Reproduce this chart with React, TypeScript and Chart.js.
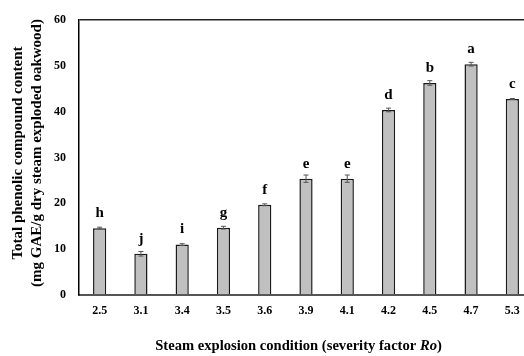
import React, { useEffect, useRef } from "react";
import { Chart, registerables } from "chart.js";

Chart.register(...registerables);

const categories = ["2.5", "3.1", "3.4", "3.5", "3.6", "3.9", "4.1", "4.2", "4.5", "4.7", "5.3"];
const values = [14.6, 9.0, 11.0, 14.7, 19.7, 25.4, 25.4, 40.4, 46.3, 50.4, 42.8];
const errors = [0.2, 0.5, 0.2, 0.3, 0.2, 0.8, 0.8, 0.4, 0.5, 0.4, 0.1];
const letters = ["h", "j", "i", "g", "f", "e", "e", "d", "b", "a", "c"];
const yMin = 0;
const yMax = 60;
const yStep = 10;

const yTitleLines = ["Total phenolic compound content", "(mg GAE/g dry steam exploded oakwood)"];
const xTitleMain = "Steam explosion condition (severity factor ";
const xTitleItalic = "Ro";
const xTitleEnd = ")";

const SERIF = "'Liberation Serif', 'Times New Roman', serif";

const annotPlugin = {
  id: "annot",
  afterDatasetsDraw(chart: any) {
    const ctx = chart.ctx;
    const xs = chart.scales.x;
    const ys = chart.scales.y;
    ctx.save();
    // error bars
    ctx.strokeStyle = "#555555";
    ctx.lineWidth = 1;
    values.forEach((v, i) => {
      const x = xs.getPixelForValue(i);
      const yt = ys.getPixelForValue(v + errors[i]);
      const yb = ys.getPixelForValue(v - errors[i]);
      ctx.beginPath();
      ctx.moveTo(x, yt);
      ctx.lineTo(x, yb);
      ctx.moveTo(x - 2.5, yt);
      ctx.lineTo(x + 2.5, yt);
      ctx.moveTo(x - 2.5, yb);
      ctx.lineTo(x + 2.5, yb);
      ctx.stroke();
    });
    // letters
    ctx.fillStyle = "#000";
    ctx.font = `bold 15px ${SERIF}`;
    ctx.textAlign = "center";
    ctx.textBaseline = "middle";
    values.forEach((v, i) => {
      const x = xs.getPixelForValue(i);
      const y = ys.getPixelForValue(v) - 15;
      ctx.fillText(letters[i], x, y);
    });
    ctx.restore();
  },
  afterDraw(chart: any) {
    const ctx = chart.ctx;
    ctx.save();
    ctx.fillStyle = "#000";
    // y title
    ctx.font = `bold 15px ${SERIF}`;
    ctx.textAlign = "center";
    ctx.textBaseline = "middle";
    const cy = 153;
    const lineX = [18, 37];
    yTitleLines.forEach((t, i) => {
      ctx.save();
      ctx.translate(lineX[i], cy);
      ctx.rotate(-Math.PI / 2);
      ctx.fillText(t, 0, 0);
      ctx.restore();
    });
    // x title with italic part
    const fMain = `bold 14.6px ${SERIF}`;
    const fIt = `italic bold 14.6px ${SERIF}`;
    ctx.font = fMain;
    const w1 = ctx.measureText(xTitleMain).width;
    const w3 = ctx.measureText(xTitleEnd).width;
    ctx.font = fIt;
    const w2 = ctx.measureText(xTitleItalic).width;
    const total = w1 + w2 + w3;
    const cx = 298.5;
    const y = 346;
    let x = cx - total / 2;
    ctx.textAlign = "left";
    ctx.font = fMain;
    ctx.fillText(xTitleMain, x, y);
    x += w1;
    ctx.font = fIt;
    ctx.fillText(xTitleItalic, x, y);
    x += w2;
    ctx.font = fMain;
    ctx.fillText(xTitleEnd, x, y);
    ctx.restore();
  },
};

export default function App() {
  const ref = useRef<HTMLCanvasElement | null>(null);
  useEffect(() => {
    if (!ref.current) return;
    const chart = new Chart(ref.current, {
      type: "bar",
      data: {
        labels: categories,
        datasets: [
          {
            data: values,
            backgroundColor: "#c0c0c0",
            borderColor: "#1a1a1a",
            borderWidth: 1.5,
            categoryPercentage: 1,
            barPercentage: 0.32,
          },
        ],
      },
      options: {
        responsive: false,
        animation: false,
        events: [],
        layout: { padding: { top: 17.5, left: 0, right: 0, bottom: 0 } },
        plugins: {
          legend: { display: false },
          tooltip: { enabled: false },
          title: { display: false },
        },
        scales: {
          x: {
            grid: { display: false, drawTicks: false },
            border: { display: true, color: "#555555", width: 2 },
            ticks: {
              padding: 9,
              color: "#000",
              font: { family: SERIF, size: 12, weight: "bold" },
              maxRotation: 0,
              autoSkip: false,
            },
            afterFit(scale: any) {
              scale.height = 61;
            },
          },
          y: {
            min: yMin,
            max: yMax,
            grid: {
              drawTicks: false,
              color: (c: any) => (c.tick && c.tick.value === yMax ? "#222222" : "rgba(0,0,0,0)"),
              lineWidth: 1.5,
            },
            border: { display: true, color: "#000", width: 1.5 },
            ticks: {
              stepSize: yStep,
              padding: 13,
              color: "#000",
              font: { family: SERIF, size: 12, weight: "bold" },
            },
            afterFit(scale: any) {
              scale.width = 79;
            },
          },
        },
      },
      plugins: [annotPlugin],
    });
    return () => chart.destroy();
  }, []);
  return (
    <div
      style={{
        position: "absolute",
        left: 0,
        top: 0,
        width: 524,
        height: 356,
        overflow: "hidden",
        background: "#fff",
      }}
    >
      <canvas ref={ref} width={533} height={356} style={{ display: "block" }} />
    </div>
  );
}
